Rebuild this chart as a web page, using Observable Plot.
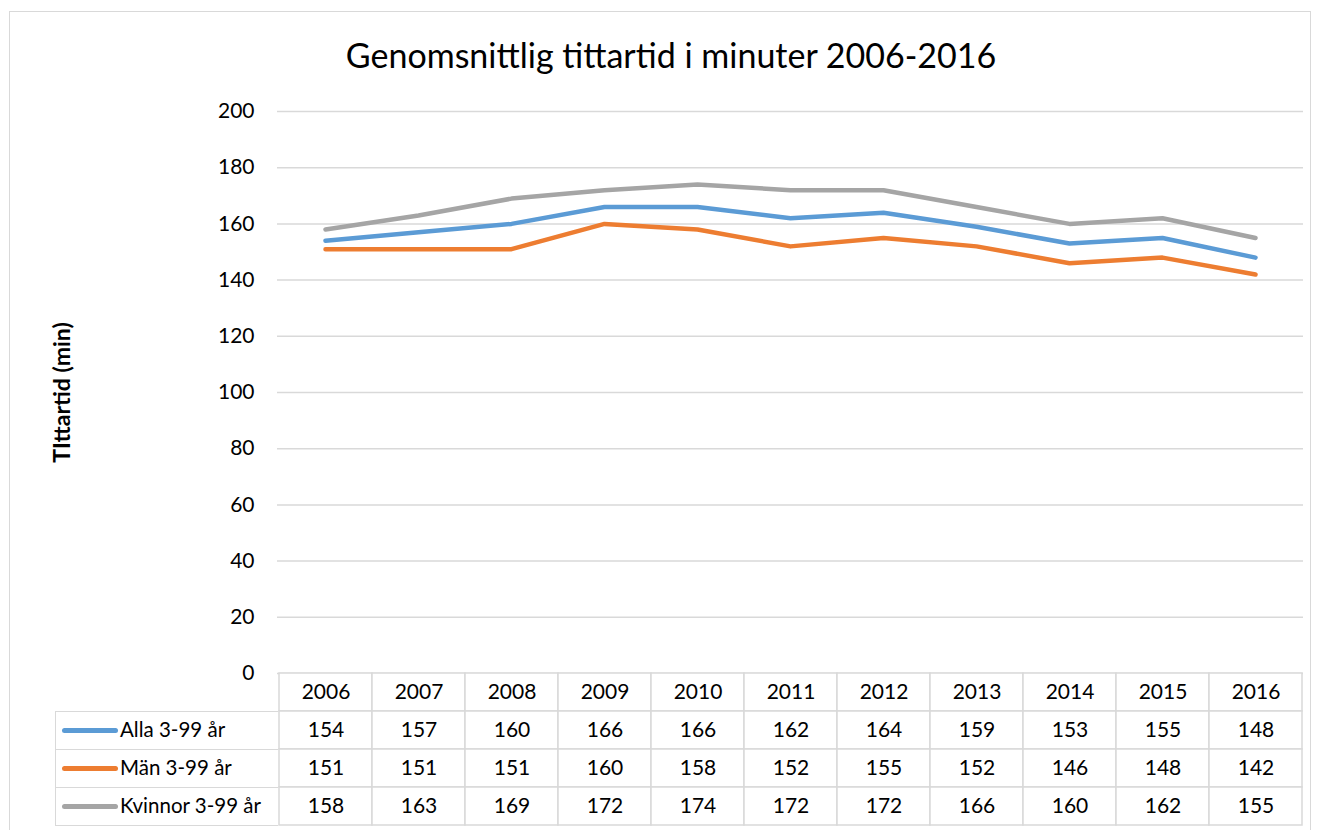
<!DOCTYPE html>
<html><head><meta charset="utf-8">
<script src="https://cdn.jsdelivr.net/npm/d3@7"></script>
<script src="https://cdn.jsdelivr.net/npm/@observablehq/plot@0.6"></script>
<style>
body{margin:0;background:#fff;font-family:Lato, sans-serif;}
#wrap{position:relative;width:1321px;height:830px;overflow:hidden;background:#fff;}
#wrap svg{position:absolute;left:0;top:0;}
#border{position:absolute;left:9px;top:11px;width:1302px;height:900px;border:1.5px solid #d9d9d9;box-sizing:border-box;}
#title{position:absolute;left:10px;width:1322px;top:34px;text-align:center;font-size:34px;color:#000;}
.lab{position:absolute;left:55px;width:223px;height:39px;box-sizing:border-box;border:1.5px solid #d9d9d9;border-right:none;font-size:20.5px;color:#000;}
.lab .sw{position:absolute;left:6px;top:16px;width:56px;height:5px;border-radius:3px;}
.lab .tx{position:absolute;left:64px;top:5px;white-space:nowrap;}
</style>
</head><body>
<div id="wrap">
  <div id="border"></div>
  <div id="title">Genomsnittlig tittartid i minuter 2006-2016</div>
</div>
<script>
const years = [2006, 2007, 2008, 2009, 2010, 2011, 2012, 2013, 2014, 2015, 2016];
const seriesNames = ["Alla 3-99 år", "Män 3-99 år", "Kvinnor 3-99 år"];
const seriesColors = ["#5b9bd5", "#ed7d31", "#a5a5a5"];
const alla = [154, 157, 160, 166, 166, 162, 164, 159, 153, 155, 148];
const man = [151, 151, 151, 160, 158, 152, 155, 152, 146, 148, 142];
const kvinnor = [158, 163, 169, 172, 174, 172, 172, 166, 160, 162, 155];
const yTicks = [0, 20, 40, 60, 80, 100, 120, 140, 160, 180, 200];
const yLabel = "TIttartid (min)";

const seriesValues = [alla, man, kvinnor];
const data = [];
seriesNames.forEach((s, i) => years.forEach((y, j) => data.push({series: s, year: y, value: seriesValues[i][j]})));

const W = 1321, H = 830;
const wrap = document.getElementById("wrap");

const main = Plot.plot({
  width: W, height: H,
  marginLeft: 277, marginRight: 18, marginTop: 111, marginBottom: 157,
  style: {fontFamily: "Lato, sans-serif", fontSize: "21px", color: "#000", background: "transparent"},
  x: {type: "point", domain: years, padding: 0.5, axis: null},
  y: {domain: [0, 200]},
  color: {domain: seriesNames, range: seriesColors},
  marks: [
    Plot.gridY(yTicks, {stroke: "#d9d9d9", strokeOpacity: 1, strokeWidth: 1.5}),
    Plot.axisY(yTicks, {tickSize: 0, tickPadding: 23, fontSize: 21, label: null}),
    Plot.line(data, {x: "year", y: "value", stroke: "series", strokeWidth: 4.5, strokeLinejoin: "round", strokeLinecap: "round"}),
    Plot.text([yLabel], {frameAnchor: "left", dx: -215, rotate: -90, textAnchor: "middle", fontWeight: "bold", fontSize: 23})
  ]
});
wrap.insertBefore(main, document.getElementById("title"));

const rowDomain = ["header", ...seriesNames];
const cells = years.map(y => ({year: y, row: "header", label: String(y)}));
data.forEach(d => cells.push({year: d.year, row: d.series, label: String(d.value)}));

const table = Plot.plot({
  width: W, height: H,
  marginLeft: 277, marginRight: 18, marginTop: 673, marginBottom: 5,
  style: {fontFamily: "Lato, sans-serif", fontSize: "21px", color: "#000", background: "transparent"},
  x: {type: "band", domain: years, padding: 0, axis: null},
  y: {type: "band", domain: rowDomain, padding: 0, axis: null},
  marks: [
    Plot.cell(cells, {x: "year", y: "row", fill: "white", stroke: "#d9d9d9", strokeWidth: 1.5, inset: 0}),
    Plot.text(cells, {x: "year", y: "row", text: "label", fontSize: 21, fill: "#000"})
  ]
});
wrap.insertBefore(table, document.getElementById("title"));

// label column with legend swatches, positioned from the table's y scale
const ys = table.scale("y");
seriesNames.forEach((s, i) => {
  const d = document.createElement("div");
  d.className = "lab";
  const top = ys.apply(s);
  d.style.top = (top) + "px";
  d.style.height = (ys.bandwidth + 1) + "px";
  d.innerHTML = `<div class="sw" style="background:${seriesColors[i]}"></div><div class="tx">${s}</div>`;
  wrap.appendChild(d);
});
</script>
</body></html>
